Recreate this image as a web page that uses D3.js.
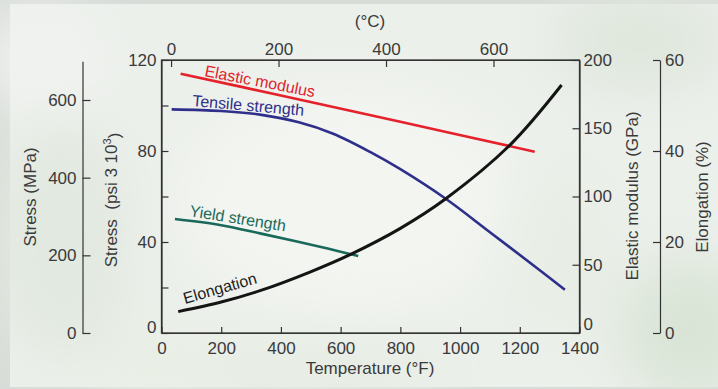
<!DOCTYPE html>
<html>
<head>
<meta charset="utf-8">
<script src="https://cdn.jsdelivr.net/npm/d3@7"></script>
<style>
  body { margin: 0; background: #d8dcd8; }
  svg { display: block; }
  text { font-family: "Liberation Sans", Arial, Helvetica, sans-serif; }
</style>
</head>
<body>
<svg id="chart" width="718" height="389"></svg>
<script>
// ---- values ----
const elasticF   = [64, 400, 800, 1250];
const elasticGPa = [190, 174, 154.8, 132.8];

const tensileF   = [34, 200, 330, 460, 575, 700, 800, 952, 1100, 1268, 1351];
const tensileKsi = [98.3, 97.6, 96.0, 92.6, 87.6, 79.5, 72, 59, 44.3, 27.5, 19];

const yieldF   = [45, 200, 330, 450, 560, 659];
const yieldKsi = [50.1, 47.4, 43.8, 40.3, 37, 33.8];

const elongF   = [56, 200, 330, 497, 637, 800, 952, 1167, 1340];
const elongPct = [4.7, 6.8, 9.3, 13.4, 17.4, 23, 29.5, 41.3, 54.5];

const ticksF     = [0, 200, 400, 600, 800, 1000, 1200, 1400];
const ticksC     = [0, 200, 400, 600];
const ticksKsi   = [0, 20, 40, 60, 80, 100, 120];
const labelsKsi  = [0, 40, 80, 120];
const ticksMPa   = [0, 200, 400, 600];
const ticksGPa   = [0, 50, 100, 150, 200];
const ticksElong = [0, 20, 40, 60];

const svg = d3.select('#chart');
const W = 718, H = 389;

// ---- photo-like background ----
const defs = svg.append('defs');
defs.append('filter').attr('id', 'soft')
  .attr('x', '-50%').attr('y', '-50%').attr('width', '200%').attr('height', '200%')
  .append('feGaussianBlur').attr('stdDeviation', 28);

svg.append('rect').attr('width', W).attr('height', H).attr('fill', '#d8dcd8');
const bg = svg.append('g');
bg.append('rect').attr('x', 10).attr('y', 4).attr('width', W - 10).attr('height', H - 6).attr('fill', '#ecf0eb');
const blobs = bg.append('g').attr('filter', 'url(#soft)');
[
  [60, 240, 70, 120, '#e2e9e0'],
  [40, 60, 60, 50, '#f1f3f0'],
  [350, 200, 170, 110, '#f3f5f1'],
  [640, 40, 90, 50, '#dfe7dd'],
  [690, 330, 70, 70, '#d9e4d6'],
  [300, 370, 160, 30, '#e6ece3'],
  [560, 250, 60, 90, '#e8eee6'],
  [150, 360, 60, 40, '#e9efe5']
].forEach(([cx, cy, rx, ry, c]) => {
  blobs.append('ellipse').attr('cx', cx).attr('cy', cy).attr('rx', rx).attr('ry', ry).attr('fill', c);
});

// ---- scales ----
const x   = d3.scaleLinear().domain([0, 1400]).range([161.5, 579.5]);
const xC  = d3.scaleLinear().domain([(0 - 32) / 1.8, (1400 - 32) / 1.8]).range(x.range());
const yKsi = d3.scaleLinear().domain([0, 120]).range([333, 60]);
const yGPa = d3.scaleLinear().domain([0, 200]).range([333, 60]);
const yEl  = d3.scaleLinear().domain([0, 60]).range([333, 60]);
const yMPa = d3.scaleLinear().domain([0, 700]).range([333, 333 - 700 * 233 / 600]);

const ink = '#333';
const labelInk = '#3a3a3a';
const fmt = d3.format('d');

function styleAxis(g) {
  g.selectAll('path, line').attr('stroke', ink).attr('stroke-width', 1.2);
  g.selectAll('text').attr('fill', labelInk).style('font-size', '17px');
  g.attr('font-family', null);
}

// frame
svg.append('rect')
  .attr('x', x(0)).attr('y', yKsi(120))
  .attr('width', x(1400) - x(0)).attr('height', yKsi(0) - yKsi(120))
  .attr('fill', 'none').attr('stroke', ink).attr('stroke-width', 1.3);

// bottom °F
svg.append('g').attr('transform', `translate(0,${yKsi(0)})`)
  .call(d3.axisBottom(x).tickValues(ticksF).tickFormat(fmt).tickSizeInner(-6).tickSizeOuter(0).tickPadding(9))
  .call(styleAxis);

// top °C
svg.append('g').attr('transform', `translate(0,${yKsi(120)})`)
  .call(d3.axisTop(xC).tickValues(ticksC).tickFormat(fmt).tickSizeInner(-7).tickSizeOuter(0).tickPadding(5))
  .call(styleAxis);

// left ksi
const gKsi = svg.append('g').attr('transform', `translate(${x(0)},0)`)
  .call(d3.axisLeft(yKsi).tickValues(ticksKsi).tickSizeInner(-7).tickSizeOuter(0).tickPadding(5)
    .tickFormat(d => labelsKsi.includes(d) ? fmt(d) : ''))
  .call(styleAxis);
gKsi.selectAll('.tick').filter(d => d === 0).select('text').attr('dy', '-0.05em');

// right GPa
const gGPa = svg.append('g').attr('transform', `translate(${x(1400)},0)`)
  .call(d3.axisRight(yGPa).tickValues(ticksGPa).tickFormat(fmt).tickSizeInner(-7).tickSizeOuter(0).tickPadding(4))
  .call(styleAxis);
gGPa.selectAll('.tick').filter(d => d === 0).select('text').attr('dy', '-0.22em');

// far-left MPa
svg.append('g').attr('transform', 'translate(82.5,0)')
  .call(d3.axisLeft(yMPa).tickValues(ticksMPa).tickFormat(fmt).tickSizeInner(-8).tickSizeOuter(0).tickPadding(6))
  .call(styleAxis);

// far-right elongation
svg.append('g').attr('transform', 'translate(660,0)')
  .call(d3.axisRight(yEl).tickValues(ticksElong).tickFormat(fmt).tickSizeInner(-7).tickSizeOuter(0).tickPadding(5))
  .call(styleAxis);

// ---- axis titles ----
function vTitle(cx, cy, txt) {
  return svg.append('text')
    .attr('transform', `translate(${cx},${cy}) rotate(-90)`)
    .attr('text-anchor', 'middle').attr('dy', '0.36em')
    .attr('fill', labelInk).style('font-size', '17px')
    .text(txt);
}
vTitle(30, 197, 'Stress (MPa)');
const psiT = vTitle(111, 200, 'Stress\u00a0 (psi 3 10');
psiT.append('tspan').attr('dy', '-0.55em').style('font-size', '11px').text('3');
psiT.append('tspan').attr('dy', '0.55em').text(')');
vTitle(632, 196, 'Elastic modulus (GPa)');
vTitle(702, 197, 'Elongation (%)');

svg.append('text').attr('x', 370).attr('y', 374).attr('text-anchor', 'middle')
  .attr('fill', labelInk).style('font-size', '17px').text('Temperature (\u00b0F)');
svg.append('text').attr('x', 370).attr('y', 27).attr('text-anchor', 'middle')
  .attr('fill', labelInk).style('font-size', '17px').text('(\u00b0C)');

// ---- curves ----
const series = [
  { fx: elasticF, vals: elasticGPa, y: yGPa, color: '#e5212c', w: 2.6 },
  { fx: tensileF, vals: tensileKsi, y: yKsi, color: '#2e2f8a', w: 2.6 },
  { fx: yieldF,   vals: yieldKsi,   y: yKsi, color: '#19695a', w: 2.6 },
  { fx: elongF,   vals: elongPct,   y: yEl,  color: '#141414', w: 3 }
];
series.forEach(s => {
  const line = d3.line()
    .x((d, i) => x(s.fx[i]))
    .y(d => s.y(d))
    .curve(d3.curveCatmullRom.alpha(0.5));
  svg.append('path').datum(s.vals)
    .attr('d', line)
    .attr('fill', 'none')
    .attr('stroke', s.color)
    .attr('stroke-width', s.w)
    .attr('stroke-linecap', 'butt');
});

// ---- curve labels (anchored in data space) ----
const curveLabels = [
  { text: 'Elastic modulus',  f: 142, v: 188.3, y: yGPa, rot: 11,  color: '#e0242e' },
  { text: 'Tensile strength', f: 102, v: 99.8,  y: yKsi, rot: 5,   color: '#2e2f8a' },
  { text: 'Yield strength',   f: 92,  v: 51.4,  y: yKsi, rot: 9,   color: '#1b6b5b' },
  { text: 'Elongation',       f: 79,  v: 6.4,   y: yEl,  rot: -16, color: '#222' }
];
curveLabels.forEach(l => {
  svg.append('text')
    .attr('transform', `translate(${x(l.f)},${l.y(l.v)}) rotate(${l.rot})`)
    .attr('fill', l.color)
    .style('font-size', '16px')
    .text(l.text);
});
</script>
</body>
</html>
